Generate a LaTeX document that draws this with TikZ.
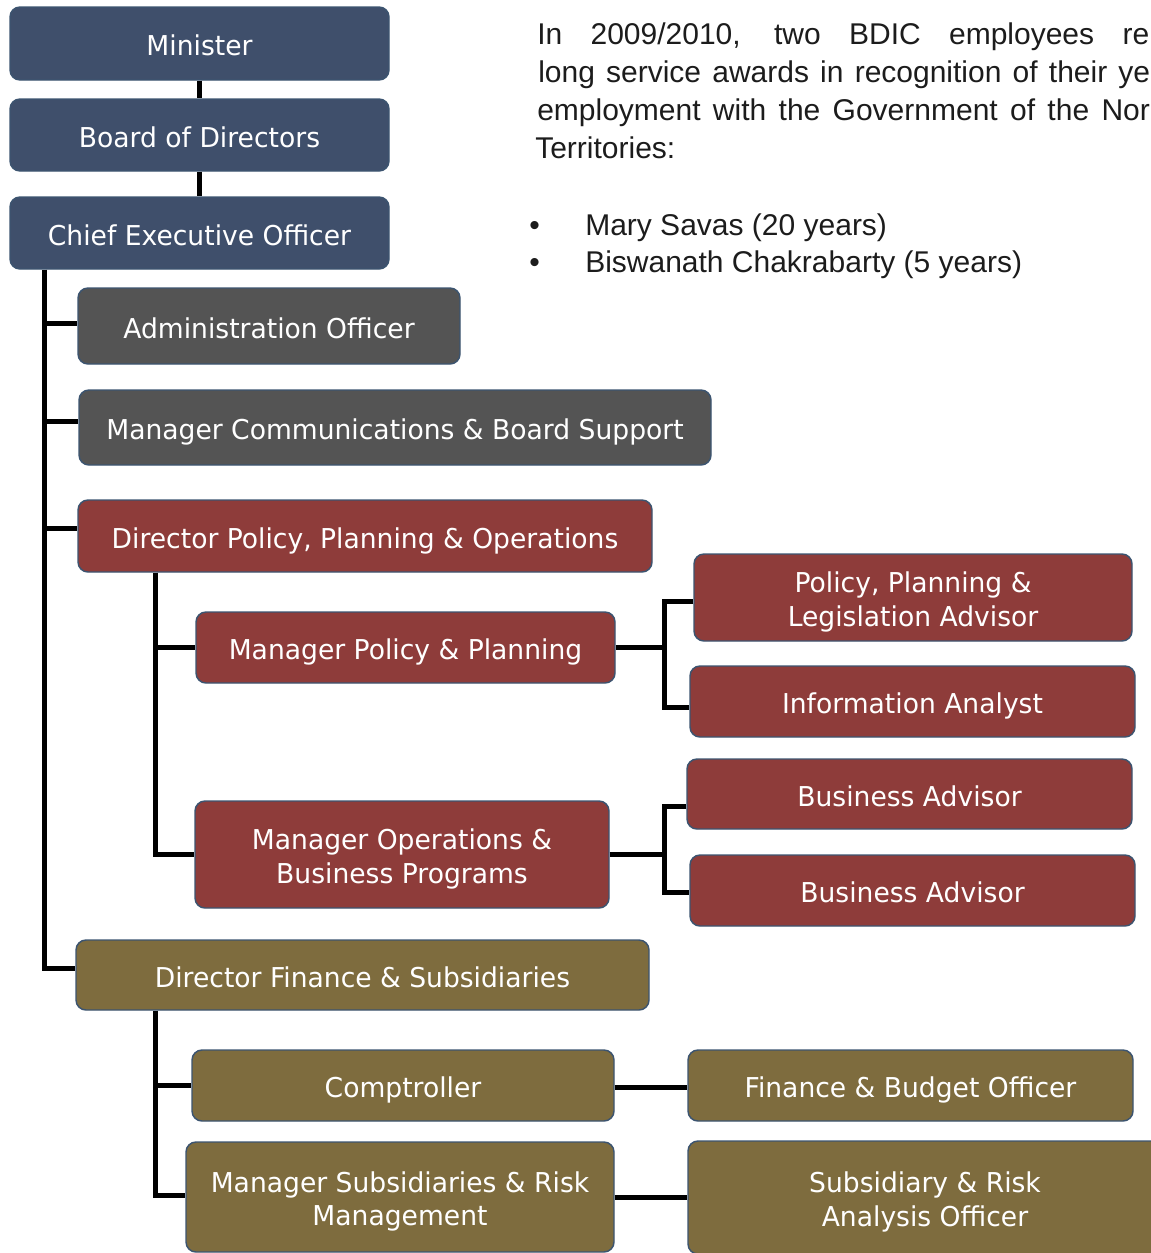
\documentclass[tikz,border=0pt]{standalone}
\usepackage{fontspec}
\setmainfont{Liberation Sans}
\newfontfamily\orgfont[FakeStretch=0.972]{DejaVu Sans}

\definecolor{navyfill}{HTML}{3F4F6B}
\definecolor{greyfill}{HTML}{545454}
\definecolor{redfill}{HTML}{8E3C3A}
\definecolor{olivefill}{HTML}{7E6C3E}
\definecolor{rimblue}{HTML}{3C5470}
\definecolor{bodytext}{HTML}{1C1C1C}

\begin{document}
\begin{tikzpicture}[x=0.75pt,y=-0.75pt,
  orgbox/.style={draw=rimblue, line width=1.1pt, rounded corners=7.5pt,
    inner sep=0pt, align=center, text=white,
    text height=18pt, text depth=0pt,
    font=\orgfont\fontsize{20.5}{24.8}\selectfont},
  twolines/.style={text height=42.8pt},
  dims/.style 2 args={minimum width={#1*0.75pt}, minimum height={#2*0.75pt}},
  navybox/.style={orgbox, fill=navyfill},
  greybox/.style={orgbox, fill=greyfill},
  redbox/.style={orgbox, fill=redfill},
  olivebox/.style={orgbox, fill=olivefill},
  conn/.style={line width=3.75pt, black},
  para/.style={anchor=base west, inner sep=0pt, text=bodytext,
    font=\fontsize{22.5}{28}\selectfont}
]
\useasboundingbox (0,0) rectangle (1151,1253);

% trunk lines
\coordinate (xA) at (44,0);
\coordinate (xB) at (155,0);
\coordinate (xC) at (664,0);

% executive chain
\node[navybox, dims={379}{73}] (min) at (199.5,43.5) {Minister};
\node[navybox, dims={379}{72}] (bod) at (199.5,135) {Board of Directors};
\node[navybox, dims={379}{72}] (ceo) at (199.5,233) {Chief Executive Officer};

% direct reports
\node[greybox, dims={382}{76}] (adm) at (269,326) {Administration Officer};
\node[greybox, dims={632}{75}] (mcb) at (395,427.5) {Manager Communications \& Board Support};
\node[redbox, dims={574}{72}] (dpo) at (365,536) {Director Policy, Planning \& Operations};
\node[olivebox, dims={573}{70}] (dfs) at (362.5,975) {Director Finance \& Subsidiaries};

% policy branch
\node[redbox, dims={419}{71}] (mpp) at (405.5,647.5) {Manager Policy \& Planning};
\node[redbox, twolines, dims={414}{107}] (mob) at (402,854.5) {Manager Operations \&\\Business Programs};
\node[redbox, twolines, dims={438}{87}] (ppl) at (913,597.5) {Policy, Planning \&\\Legislation Advisor};
\node[redbox, dims={445}{71}] (ina) at (912.5,701.5) {Information Analyst};
\node[redbox, dims={445}{70}] (ba1) at (909.5,794) {Business Advisor};
\node[redbox, dims={445}{71}] (ba2) at (912.5,890.5) {Business Advisor};

% finance branch
\node[olivebox, dims={422}{71}] (cmp) at (403,1085.5) {Comptroller};
\node[olivebox, twolines, dims={428}{110}] (msr) at (400,1197) {Manager Subsidiaries \& Risk\\Management};
\node[olivebox, dims={445}{71}] (fbo) at (910.5,1085.5) {Finance \& Budget Officer};
\node[olivebox, twolines, dims={474}{113}] (sra) at (925,1197.5) {Subsidiary \& Risk\\Analysis Officer};

% connectors
\draw[conn] (min.south) -- (bod.north);
\draw[conn] (bod.south) -- (ceo.north);
\draw[conn] (ceo.south -| xA) |- ([yshift=5.25pt]dfs.west);
\draw[conn] ([yshift=2.25pt]adm.west -| xA) -- ([yshift=2.25pt]adm.west);
\draw[conn] ([yshift=4.5pt]mcb.west -| xA) -- ([yshift=4.5pt]mcb.west);
\draw[conn] ([yshift=6pt]dpo.west -| xA) -- ([yshift=6pt]dpo.west);

\draw[conn] (dpo.south -| xB) |- (mob.west);
\draw[conn] (mpp.west -| xB) -- (mpp.west);
\draw[conn] (mpp.east) -- (mpp.east -| xC);
\draw[conn] ([yshift=-3pt]ppl.west) -| ([yshift=-4.5pt]xC |- ina.west) -- ([yshift=-4.5pt]ina.west);
\draw[conn] (mob.east) -- (mob.east -| xC);
\draw[conn] ([yshift=-9pt]ba1.west) -| ([yshift=-1.5pt]xC |- ba2.west) -- ([yshift=-1.5pt]ba2.west);

\draw[conn] (dfs.south -| xB) |- ([yshift=1.5pt]msr.west);
\draw[conn] (cmp.west -| xB) -- (cmp.west);
\draw[conn] ([yshift=-1.5pt]cmp.east) -- ([yshift=-1.5pt]cmp.east -| fbo.west);
\draw[conn] (msr.east) -- (msr.east -| sra.west);

% long service note, justified lines running to the right edge
\node[para] (p1) at (537,44) {\makebox[459pt][s]{In 2009/2010, two BDIC employees re}};
\node[para] (p2) at (538,82) {\makebox[459pt][s]{long service awards in recognition of their ye}};
\node[para] (p3) at (537,120) {\makebox[459.5pt][s]{employment with the Government of the Nor}};
\node[para] (p4) at (535,158) {Territories:};
\node[para] (d1) at (529,235) {•};
\node[para] (m1) at (585,235) {Mary Savas (20 years)};
\node[para] (d2) at (529,272) {•};
\node[para] (m2) at (585,272) {Biswanath Chakrabarty (5 years)};
\end{tikzpicture}
\end{document}
